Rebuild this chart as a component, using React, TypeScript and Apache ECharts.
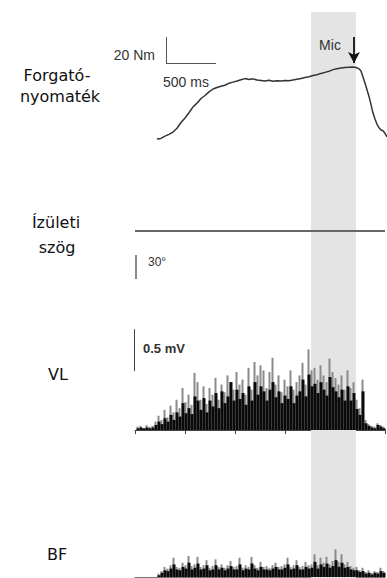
import React, { useEffect, useRef } from "react";
import * as echarts from "echarts";

// Torque (Nm) over time (ms)
const torqueTime = [220, 260, 300, 340, 380, 420, 460, 500, 540, 580, 620, 660, 700, 740, 780, 820, 860, 900, 940, 980, 1020, 1060, 1100, 1140, 1180, 1220, 1260, 1300, 1340, 1380, 1420, 1460, 1500, 1540, 1580, 1620, 1660, 1700, 1740, 1780, 1820, 1860, 1900, 1940, 1980, 2020, 2060, 2100, 2140, 2180, 2210, 2240, 2260, 2280, 2300, 2320, 2340, 2360, 2380, 2400, 2420, 2440, 2460, 2480, 2500, 2520];
const torqueNm = [1.6, 2.0, 3.7, 5.1, 6.9, 9.8, 14.2, 17.7, 21.7, 26.2, 29.1, 32.7, 35.0, 37.8, 40.0, 41.2, 42.1, 42.9, 44.5, 45.3, 46.1, 47.1, 48.0, 47.3, 47.8, 46.9, 46.5, 46.1, 46.7, 45.9, 46.3, 46.1, 46.5, 46.3, 46.9, 47.5, 48.0, 48.8, 49.4, 50.4, 51.0, 52.0, 52.8, 53.6, 54.9, 55.5, 56.1, 56.5, 56.7, 56.9, 56.5, 55.5, 53.8, 49.2, 44.5, 39.4, 34.3, 28.0, 21.5, 16.9, 12.8, 10.2, 8.5, 7.9, 5.9, 3.2];

// Joint angle (deg), constant
const angleTime = [0, 2500];
const angleDeg = [75, 75];

// VL EMG (mV), sampled every 30 ms starting at 30 ms
const vlStart = 30;
const vlStep = 30;
const vlGray = [0.04, 0.05, 0.02, 0.06, 0.04, 0.05, 0.10, 0.17, 0.12, 0.24,
  0.15, 0.29, 0.21, 0.36, 0.26, 0.50, 0.33, 0.42, 0.30, 0.68,
  0.57, 0.36, 0.52, 0.31, 0.50, 0.42, 0.62, 0.36, 0.54, 0.45,
  0.65, 0.57, 0.48, 0.69, 0.54, 0.60, 0.42, 0.74, 0.48, 0.81,
  0.65, 0.77, 0.71, 0.50, 0.69, 0.86, 0.54, 0.65, 0.45, 0.60,
  0.52, 0.71, 0.48, 0.57, 0.65, 0.80, 0.54, 0.96, 0.71, 0.74,
  0.60, 0.77, 0.65, 0.57, 0.85, 0.69, 0.62, 0.54, 0.65, 0.48,
  0.71, 0.50, 0.57, 0.36, 0.26, 0.60, 0.12, 0.07, 0.05, 0.04,
  0.08, 0.06, 0.04];
const vlBlack = [0.02, 0.03, 0.02, 0.03, 0.02, 0.03, 0.06, 0.10, 0.07, 0.14,
  0.10, 0.18, 0.12, 0.21, 0.16, 0.32, 0.20, 0.26, 0.19, 0.40,
  0.35, 0.24, 0.38, 0.21, 0.35, 0.28, 0.44, 0.26, 0.46, 0.32,
  0.40, 0.57, 0.35, 0.48, 0.37, 0.44, 0.30, 0.52, 0.35, 0.57,
  0.42, 0.52, 0.46, 0.35, 0.48, 0.57, 0.39, 0.46, 0.32, 0.41,
  0.37, 0.52, 0.32, 0.41, 0.46, 0.60, 0.40, 0.66, 0.52, 0.55,
  0.44, 0.57, 0.48, 0.41, 0.63, 0.51, 0.46, 0.39, 0.48, 0.35,
  0.52, 0.35, 0.44, 0.25, 0.18, 0.46, 0.08, 0.05, 0.03, 0.02,
  0.06, 0.04, 0.02];

// BF EMG (mV), sampled every 30 ms starting at 240 ms
const bfStart = 240;
const bfStep = 30;
const bfGray = [0.04, 0.07, 0.12, 0.10, 0.14, 0.23, 0.12, 0.11, 0.17, 0.14,
  0.25, 0.13, 0.15, 0.24, 0.12, 0.14, 0.20, 0.11, 0.13, 0.21,
  0.12, 0.15, 0.11, 0.14, 0.19, 0.12, 0.13, 0.23, 0.11, 0.14,
  0.12, 0.24, 0.14, 0.11, 0.18, 0.12, 0.13, 0.11, 0.14, 0.17,
  0.12, 0.13, 0.15, 0.23, 0.12, 0.14, 0.20, 0.12, 0.13, 0.18,
  0.14, 0.15, 0.27, 0.14, 0.23, 0.17, 0.24, 0.15, 0.19, 0.33,
  0.18, 0.27, 0.15, 0.18, 0.13, 0.11, 0.12, 0.08, 0.11, 0.06,
  0.08, 0.05, 0.07, 0.06, 0.11, 0.07];
const bfBlack = [0.02, 0.05, 0.08, 0.07, 0.10, 0.15, 0.09, 0.08, 0.12, 0.10,
  0.17, 0.09, 0.11, 0.16, 0.09, 0.10, 0.14, 0.08, 0.09, 0.14,
  0.09, 0.11, 0.08, 0.10, 0.13, 0.09, 0.09, 0.15, 0.08, 0.10,
  0.09, 0.16, 0.10, 0.08, 0.12, 0.09, 0.09, 0.08, 0.10, 0.12,
  0.09, 0.09, 0.11, 0.15, 0.09, 0.10, 0.14, 0.09, 0.09, 0.12,
  0.10, 0.11, 0.18, 0.10, 0.15, 0.12, 0.16, 0.11, 0.13, 0.20,
  0.12, 0.17, 0.11, 0.12, 0.09, 0.08, 0.08, 0.06, 0.07, 0.04,
  0.05, 0.03, 0.05, 0.04, 0.07, 0.05];

// Shaded window (ms) and Mic marker
const micWindow = [1760, 2210];
const micTime = 2190;

// Labels
const rowLabels = [
  { text: "Forgató-", x: 57, y: 75 },
  { text: "nyomaték", x: 60, y: 96 },
  { text: "Ízületi", x: 56, y: 222 },
  { text: "szög", x: 57, y: 247 },
  { text: "VL", x: 58, y: 374 },
  { text: "BF", x: 57, y: 554 },
];

const zip = (t: number[], v: number[]) => t.map((x, i) => [x, v[i]]);
const sampled = (start: number, step: number, v: number[]) => v.map((y, i) => [start + i * step, y]);

export default function App() {
  const ref = useRef<HTMLDivElement>(null);
  useEffect(() => {
    if (!ref.current) return;
    const chart = echarts.init(ref.current, undefined, { renderer: "svg" });
    const hiddenX = (max: number, gi: number) => ({ type: "value", gridIndex: gi, min: 0, max, show: false });
    const hiddenY = (min: number, max: number, gi: number) => ({ type: "value", gridIndex: gi, min, max, show: false });
    const txt = (text: string, x: number, y: number, size: number, align: string, extra: any = {}) => ({
      type: "text", x, y, z: 100, silent: true,
      style: { text, fill: "#333", fontSize: size, fontFamily: "Liberation Sans", align, verticalAlign: "middle", ...extra },
    });
    const option: any = {
      animation: false,
      backgroundColor: "#ffffff",
      grid: [
        { left: 135, top: 12, width: 250, height: 566 },
        { left: 135, top: 11, width: 252, height: 130 },
        { left: 135, top: 219, width: 250, height: 72 },
        { left: 135, top: 325, width: 250, height: 105 },
        { left: 135, top: 472, width: 250, height: 105 },
      ],
      xAxis: [
        hiddenX(2500, 0),
        hiddenX(2520, 1),
        hiddenX(2500, 2),
        {
          type: "value", gridIndex: 3, min: 0, max: 2500, interval: 500,
          axisLine: { show: true, onZero: false, lineStyle: { color: "#444", width: 1 } },
          axisTick: { show: true, length: 4, lineStyle: { color: "#444" } },
          axisLabel: { show: false }, splitLine: { show: false },
        },
        {
          type: "value", gridIndex: 4, min: 0, max: 2500,
          axisLine: { show: true, onZero: false, lineStyle: { color: "#777", width: 1 } },
          axisTick: { show: false }, axisLabel: { show: false }, splitLine: { show: false },
        },
      ],
      yAxis: [
        hiddenY(0, 1, 0),
        hiddenY(0, 100, 1),
        hiddenY(0, 90, 2),
        hiddenY(0, 1.25, 3),
        hiddenY(0, 1.25, 4),
      ],
      series: [
        {
          type: "line", xAxisIndex: 0, yAxisIndex: 0, data: [[0, 0]], showSymbol: false, silent: true,
          lineStyle: { width: 0, opacity: 0 },
          markArea: { silent: true, itemStyle: { color: "#e4e4e4" }, data: [[{ xAxis: micWindow[0] }, { xAxis: micWindow[1] }]] },
        },
        {
          type: "line", xAxisIndex: 1, yAxisIndex: 1, data: zip(torqueTime, torqueNm), showSymbol: false, silent: true,
          lineStyle: { color: "#333", width: 1.5 },
          markLine: {
            silent: true, symbol: ["none", "none"], label: { show: false },
            lineStyle: { color: "#555", width: 1, type: "solid" },
            data: [
              [{ coord: [310, 80] }, { coord: [310, 60] }],
              [{ coord: [310, 60] }, { coord: [810, 60] }],
              [
                { coord: [micTime, 80], symbol: "none", lineStyle: { color: "#111", width: 1.8 } },
                { coord: [micTime, 60], symbol: "arrow", symbolSize: [9, 11] },
              ],
            ],
          },
        },
        {
          type: "line", xAxisIndex: 2, yAxisIndex: 2, data: zip(angleTime, angleDeg), showSymbol: false, silent: true,
          lineStyle: { color: "#666", width: 1.8 },
          markLine: {
            silent: true, symbol: ["none", "none"], label: { show: false },
            lineStyle: { color: "#666", width: 1.5, type: "solid" },
            data: [[{ coord: [12, 15] }, { coord: [12, 45] }]],
          },
        },
        {
          type: "bar", xAxisIndex: 3, yAxisIndex: 3, data: sampled(vlStart, vlStep, vlGray), barWidth: 2, barGap: "-100%",
          itemStyle: { color: "#8a8a8a" }, silent: true,
          markLine: {
            silent: true, symbol: ["none", "none"], label: { show: false },
            lineStyle: { color: "#444", width: 1, type: "solid" },
            data: [[{ coord: [1, 0.7] }, { coord: [1, 1.2] }]],
          },
        },
        {
          type: "bar", xAxisIndex: 3, yAxisIndex: 3, data: sampled(vlStart, vlStep, vlBlack), barWidth: 3, barGap: "-100%",
          itemStyle: { color: "#0a0a0a" }, silent: true,
        },
        {
          type: "bar", xAxisIndex: 4, yAxisIndex: 4, data: sampled(bfStart, bfStep, bfGray), barWidth: 2, barGap: "-100%",
          itemStyle: { color: "#8a8a8a" }, silent: true,
        },
        {
          type: "bar", xAxisIndex: 4, yAxisIndex: 4, data: sampled(bfStart, bfStep, bfBlack), barWidth: 3, barGap: "-100%",
          itemStyle: { color: "#0a0a0a" }, silent: true,
        },
      ],
      graphic: [
        ...rowLabels.map((l) => ({
          type: "text", x: l.x, y: l.y, z: 100, silent: true,
          style: { text: l.text, fill: "#111", fontSize: 16, fontFamily: "DejaVu Sans", align: "center", verticalAlign: "middle" },
        })),
        txt("20 Nm", 155, 55, 14, "right"),
        txt("500 ms", 163, 82, 14, "left"),
        txt("Mic", 330, 45, 14, "center"),
        txt("30°", 148, 262, 12, "left"),
        txt("0.5 mV", 143, 348, 13, "left", { fontWeight: "bold" }),
      ],
    };
    chart.setOption(option);
    return () => chart.dispose();
  }, []);
  return <div ref={ref} style={{ position: "fixed", left: 0, top: 0, width: 387, height: 578, background: "#fff" }} />;
}
